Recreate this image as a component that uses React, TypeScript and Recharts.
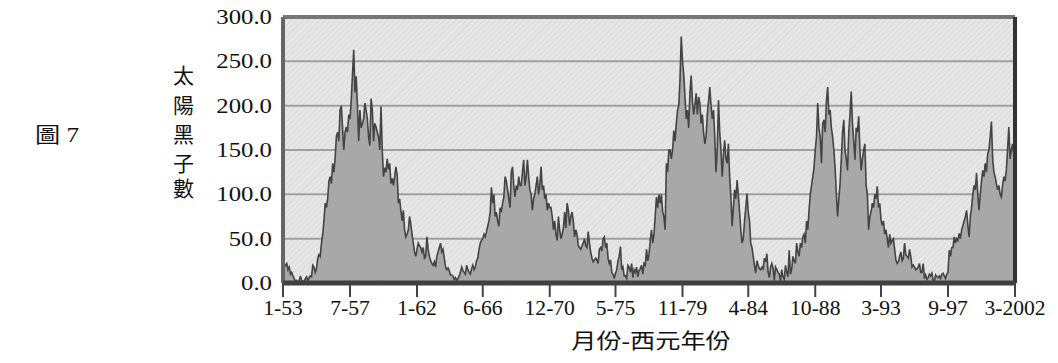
import React from 'react';
import { AreaChart, Area, XAxis, YAxis, CartesianGrid, ReferenceLine } from 'recharts';

// Monthly sunspot numbers, Jan 1953 .. Mar 2002 (one line per year)
const monthlySunspots: number[] = [
  26, 18, 20, 22, 15, 18, 10, 12, 8, 5, 2, 3, // 1953
  1, 2, 8, 3, 2, 1, 5, 7, 2, 6, 8, 7, // 1954
  20, 18, 12, 16, 28, 32, 30, 45, 55, 70, 90, 85, // 1955
  95, 115, 120, 112, 135, 125, 140, 165, 170, 160, 195, 200, // 1956
  175, 150, 170, 176, 170, 190, 185, 206, 235, 263, 215, 233, // 1957
  200, 160, 195, 175, 180, 185, 203, 195, 185, 165, 155, 208, // 1958
  195, 160, 180, 176, 170, 165, 150, 199, 150, 120, 130, 125, // 1959
  140, 128, 135, 112, 118, 110, 120, 131, 122, 90, 95, 82, // 1960
  70, 82, 60, 52, 55, 60, 75, 67, 55, 45, 35, 30, // 1961
  38, 45, 42, 40, 35, 40, 28, 30, 52, 38, 30, 25, // 1962
  22, 20, 24, 18, 30, 35, 40, 45, 35, 38, 28, 18, // 1963
  15, 17, 14, 9, 9, 8, 4, 6, 3, 5, 8, 12, // 1964
  18, 14, 12, 10, 20, 15, 12, 10, 16, 20, 15, 18, // 1965
  25, 28, 38, 45, 48, 50, 55, 52, 58, 64, 70, 80, // 1966
  108, 90, 100, 75, 80, 70, 64, 85, 80, 90, 97, 120, // 1967
  115, 105, 95, 85, 125, 131, 110, 97, 110, 105, 120, 110, // 1968
  110, 125, 139, 110, 120, 139, 120, 105, 100, 82, 95, 100, // 1969
  110, 120, 100, 110, 131, 105, 110, 95, 100, 82, 90, 85, // 1970
  85, 75, 60, 70, 55, 48, 75, 60, 50, 55, 62, 80, // 1971
  62, 90, 82, 65, 75, 80, 70, 52, 60, 55, 42, 40, // 1972
  38, 42, 45, 50, 42, 40, 58, 45, 35, 28, 24, 26, // 1973
  28, 26, 22, 38, 40, 36, 50, 52, 40, 45, 28, 22, // 1974
  26, 12, 10, 5, 11, 15, 25, 30, 41, 15, 18, 8, // 1975
  8, 5, 20, 18, 12, 22, 6, 15, 12, 18, 7, 14, // 1976
  16, 20, 10, 22, 20, 38, 25, 32, 48, 60, 45, 55, // 1977
  75, 97, 85, 100, 90, 100, 80, 75, 60, 135, 125, 150, // 1978
  150, 140, 150, 172, 160, 180, 195, 200, 230, 278, 250, 235, // 1979
  210, 185, 195, 175, 215, 234, 205, 190, 200, 214, 190, 210, // 1980
  203, 180, 190, 170, 157, 165, 190, 205, 221, 200, 185, 195, // 1981
  165, 125, 150, 206, 170, 150, 120, 145, 161, 140, 135, 157, // 1982
  120, 97, 64, 85, 105, 95, 116, 100, 80, 60, 45, 50, // 1983
  70, 85, 101, 80, 70, 45, 40, 30, 20, 11, 25, 20, // 1984
  16, 15, 18, 16, 28, 24, 33, 12, 6, 18, 22, 17, // 1985
  3, 18, 15, 12, 10, 2, 15, 7, 4, 20, 12, 7, // 1986
  37, 10, 15, 30, 25, 22, 45, 35, 30, 45, 40, 52, // 1987
  55, 45, 70, 60, 82, 100, 110, 120, 130, 150, 165, 203, // 1988
  175, 165, 135, 180, 184, 170, 205, 221, 190, 195, 175, 165, // 1989
  150, 130, 100, 75, 95, 112, 140, 170, 184, 150, 140, 127, // 1990
  170, 190, 216, 180, 160, 139, 175, 170, 188, 150, 127, 140, // 1991
  150, 157, 110, 100, 60, 75, 80, 90, 85, 100, 95, 109, // 1992
  85, 90, 71, 65, 70, 55, 60, 50, 40, 55, 45, 48, // 1993
  50, 38, 26, 22, 24, 30, 35, 25, 28, 45, 32, 30, // 1994
  28, 38, 30, 18, 20, 18, 15, 16, 18, 22, 12, 12, // 1995
  22, 5, 9, 4, 6, 10, 8, 11, 3, 2, 9, 7, // 1996
  6, 8, 5, 10, 11, 8, 5, 10, 12, 37, 30, 40, // 1997
  40, 52, 45, 50, 48, 56, 50, 60, 65, 70, 75, 82, // 1998
  65, 52, 75, 85, 100, 110, 105, 124, 100, 82, 100, 115, // 1999
  127, 120, 135, 125, 146, 150, 165, 182, 140, 125, 120, 112, // 2000
  105, 110, 100, 97, 110, 120, 115, 127, 150, 176, 140, 150, // 2001
  157, 145, 160, // 2002
];

const firstYear = 1953;
const monthLabels: string[] = monthlySunspots.map((_, i) => {
  const year = firstYear + Math.floor(i / 12);
  const month = (i % 12) + 1;
  return `${month}-${year >= 2000 ? year : year % 100}`;
});

const xTickLabels: string[] = ['1-53', '7-57', '1-62', '6-66', '12-70', '5-75', '11-79', '4-84', '10-88', '3-93', '9-97', '3-2002'];
const yTickValues: number[] = [0, 50, 100, 150, 200, 250, 300];
const yAxisTitleChars: string[] = ['太', '陽', '黑', '子', '數'];
const xAxisTitle = '月份-西元年份';
const figureLabel = '圖 7';

const data = monthlySunspots.map((v, i) => ({ label: monthLabels[i], v }));

const serif = "'Liberation Serif', 'Times New Roman', serif";
const cjk = "'Liberation Serif', 'Noto Sans CJK TC', serif";

const XTick = (props: any) => {
  const { x, y, payload } = props;
  return (
    <text transform={`translate(${x},${y + 16}) scale(1.08,1)`} textAnchor="middle" fontFamily={serif} fontSize={20} fill="#111">
      {payload.value}
    </text>
  );
};

const YTick = (props: any) => {
  const { x, y, payload } = props;
  return (
    <text transform={`translate(${x},${y + 7}) scale(1.18,1)`} textAnchor="end" fontFamily={serif} fontSize={21} fill="#111">
      {Number(payload.value).toFixed(1)}
    </text>
  );
};

const yTitleCenters = [76, 106, 135, 164, 189];

export default function App() {
  return (
    <div style={{ position: 'absolute', left: 0, top: 0, width: 1058, height: 363, background: '#fff', overflow: 'hidden' }}>
      <AreaChart width={1058} height={363} data={data} margin={{ top: 17, right: 43, bottom: 50, left: 203 }}>
        <defs>
          <pattern id="hatch" width="4" height="4" patternUnits="userSpaceOnUse" patternTransform="rotate(45)">
            <rect width="4" height="4" fill="#e7e7e7" />
            <line x1="0" y1="0" x2="0" y2="4" stroke="#d5d5d5" strokeWidth="1.5" />
          </pattern>
        </defs>
        <CartesianGrid vertical={false} stroke="#a0a0a0" strokeWidth={2} fill="url(#hatch)" fillOpacity={1} />
        <XAxis
          dataKey="label"
          ticks={xTickLabels}
          interval={0}
          height={30}
          tickSize={14}
          tickMargin={2}
          tickLine={{ stroke: '#444', strokeWidth: 2 }}
          axisLine={false}
          tick={<XTick />}
        />
        <YAxis
          domain={[0, 300]}
          ticks={yTickValues}
          width={80}
          tickSize={0}
          tickMargin={11}
          tickLine={false}
          axisLine={false}
          tick={<YTick />}
          interval={0}
        />
        <Area
          type="linear"
          dataKey="v"
          stroke="#444"
          strokeWidth={1.6}
          fill="#a8a8a8"
          fillOpacity={1}
          dot={false}
          activeDot={false}
          isAnimationActive={false}
        />
        <ReferenceLine y={300} stroke="#767676" strokeWidth={4} />
        <ReferenceLine x={monthLabels[0]} stroke="#666" strokeWidth={4} />
        <ReferenceLine x={monthLabels[monthLabels.length - 1]} stroke="#333" strokeWidth={4} />
        <ReferenceLine y={0} stroke="#404040" strokeWidth={5} />
      </AreaChart>

      <div style={{ position: 'absolute', left: 35, top: 125, fontFamily: cjk, fontSize: 21, lineHeight: '21px', color: '#111', transform: 'scaleX(1.2)', transformOrigin: 'left center', whiteSpace: 'pre' }}>
        {figureLabel}
      </div>

      {yAxisTitleChars.map((ch, i) => (
        <div key={ch} style={{ position: 'absolute', left: 172, top: yTitleCenters[i] - 11, width: 23, textAlign: 'center', fontFamily: cjk, fontSize: 21, lineHeight: '22px', color: '#111' }}>
          {ch}
        </div>
      ))}

      <div style={{ position: 'absolute', left: 651, top: 341, fontFamily: cjk, fontSize: 21, lineHeight: '22px', color: '#111', whiteSpace: 'nowrap', transform: 'translate(-50%, -50%) scaleX(1.2)' }}>
        {xAxisTitle}
      </div>
    </div>
  );
}
